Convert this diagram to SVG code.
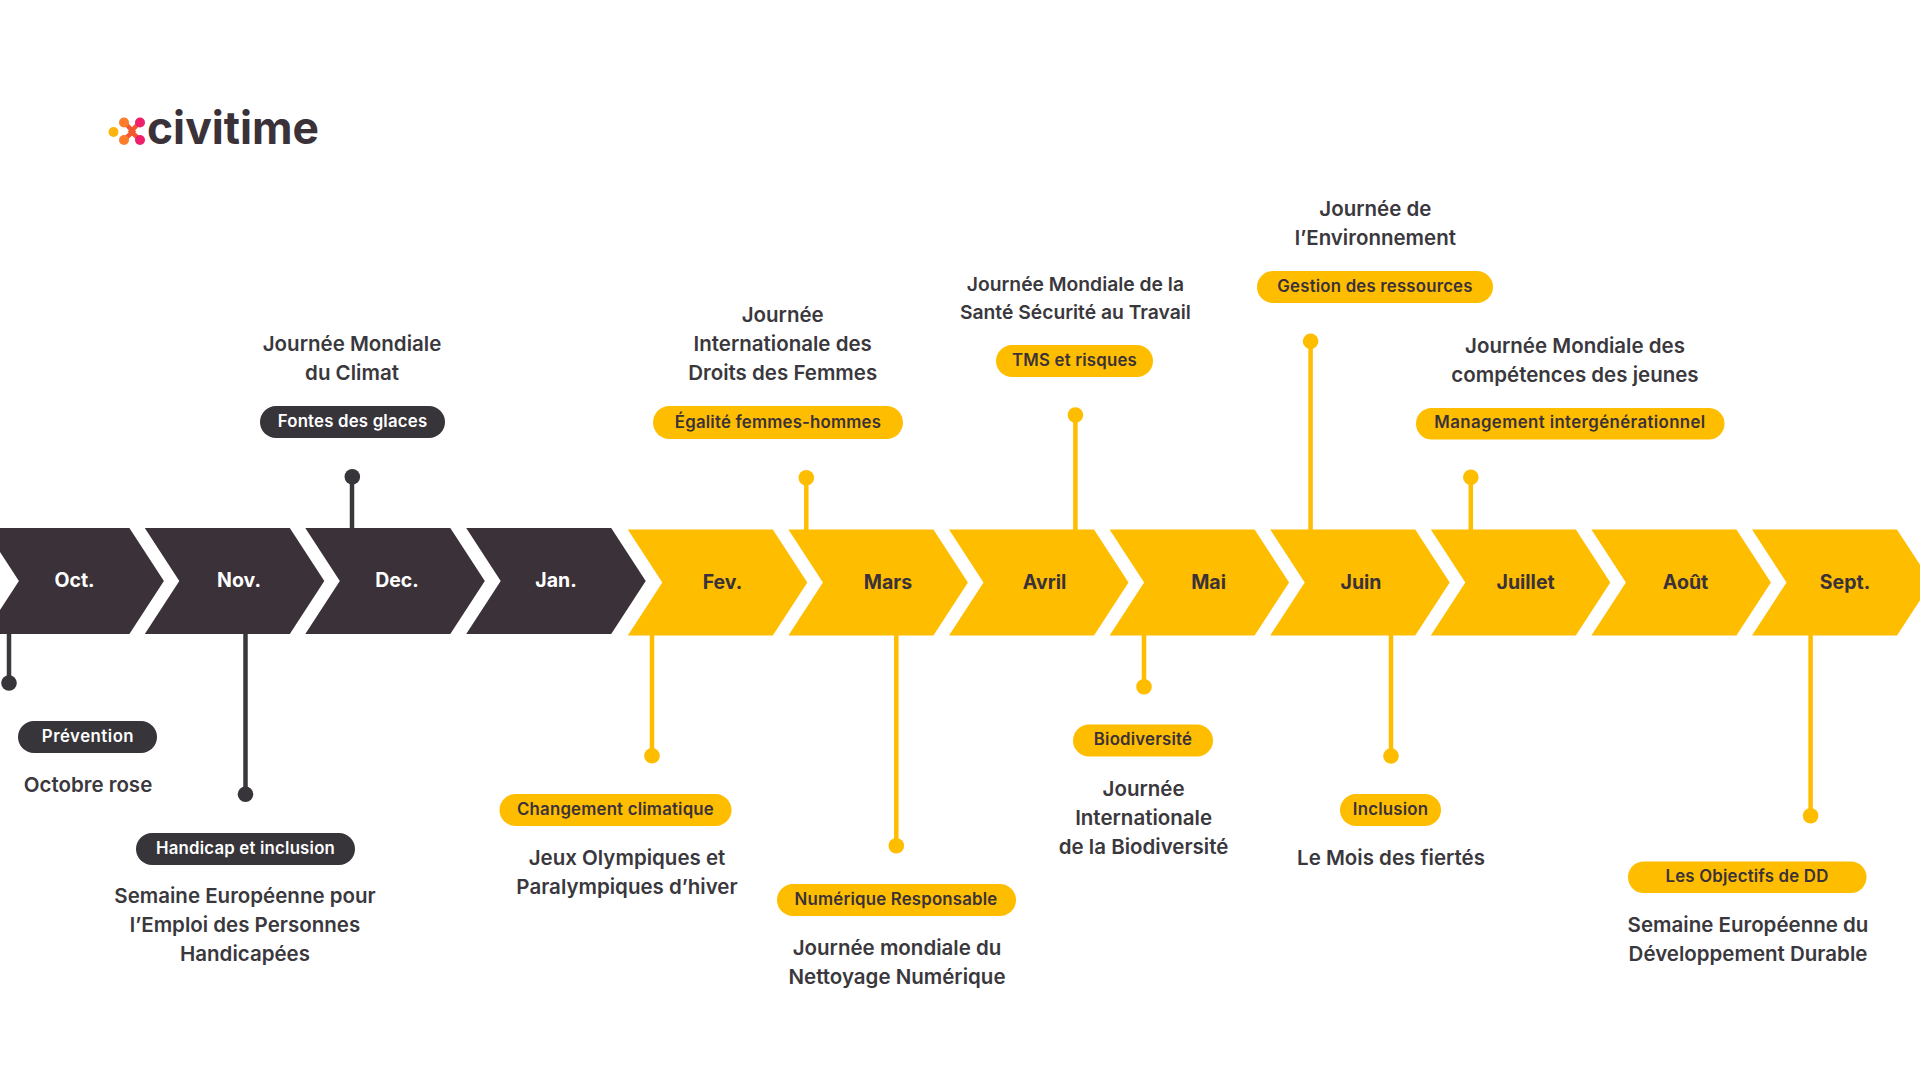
<svg xmlns="http://www.w3.org/2000/svg" width="1920" height="1080" viewBox="0 0 1920 1080">
<style>
text{font-family:"Inter","Noto Sans","Liberation Sans",sans-serif;text-anchor:middle}
.m{font-size:19.500px;font-weight:700}
.p{font-size:16.800px;font-weight:600;letter-spacing:.2px}
.t{font-size:20.500px;font-weight:600;fill:#3a383d}
.s{font-size:19.300px}
.dk{fill:#3a3238}.pd{fill:#37343a}.yl{fill:#ffbd00}
.wt{fill:#fff}.tx{fill:#3a3238}
.sd{stroke:#3a383d;stroke-width:4.500;fill:none}
.sy{stroke:#ffbd00;stroke-width:4.500;fill:none}
</style>
<defs>
<polygon id="chev" points="0,0 145,0 179.500,53 145,106 0,106 34.500,53"/>
</defs>
<rect width="1920" height="1080" fill="#fff"/>
<g id="logo">
<path d="M124 122L133 131.500L124 140M140 122L131 131.500L140 140" fill="none" stroke="#f2572e" stroke-width="4.500"/>
<circle cx="113.500" cy="132" r="5" fill="#ffb30f"/>
<circle cx="124" cy="122.500" r="5" fill="#fb7d2c"/>
<circle cx="124" cy="140" r="5" fill="#fb7d2c"/>
<circle cx="140" cy="122.500" r="5" fill="#ee1f6b"/>
<circle cx="140" cy="140" r="5" fill="#ee1f6b"/>
<text x="233" y="144" class="tx" font-size="45" font-weight="700" textLength="172" lengthAdjust="spacingAndGlyphs">civitime</text>
</g>
<g id="connectors">
<g class="sd"><path d="M9 634V683M245.500 634V794M352 476V528"/></g>
<g class="pd"><circle cx="9" cy="683" r="7.800"/><circle cx="245.500" cy="794.300" r="7.800"/><circle cx="352.300" cy="476.700" r="7.800"/></g>
<g class="sy"><path d="M652 635V755M806.300 477V530M896.300 635V845M1075.400 415V530M1144 635V686M1310.600 341V530M1391 635V756M1470.800 477V530M1810.600 635V815"/></g>
<g class="yl"><circle cx="652" cy="755.700" r="7.800"/><circle cx="806.300" cy="477.700" r="7.800"/><circle cx="896.300" cy="845.700" r="7.800"/><circle cx="1075.400" cy="415" r="7.800"/><circle cx="1144" cy="686.700" r="7.800"/><circle cx="1310.600" cy="341.300" r="7.800"/><circle cx="1391" cy="756" r="7.800"/><circle cx="1470.800" cy="477.300" r="7.800"/><circle cx="1810.600" cy="815.700" r="7.800"/></g>
</g>
<g id="oct"><use href="#chev" x="-15.600" y="528" class="dk"/><text x="74.500" y="586.500" class="m wt">Oct.</text>
<rect x="18" y="721" width="139" height="32" rx="16" class="pd"/><text x="88" y="742" class="p wt" style="letter-spacing:.5px">Prévention</text>
<text x="88" y="792" class="t">Octobre rose</text></g>
<g id="nov"><use href="#chev" x="144.800" y="528" class="dk"/><text x="239" y="586.500" class="m wt">Nov.</text>
<rect x="136" y="833" width="219" height="32" rx="16" class="pd"/><text x="245.500" y="854" class="p wt">Handicap et inclusion</text>
<text x="245" y="903" class="t">Semaine Européenne pour</text><text x="245" y="932" class="t">l’Emploi des Personnes</text><text x="245" y="961" class="t">Handicapées</text></g>
<g id="dec"><use href="#chev" x="305.300" y="528" class="dk"/><text x="397" y="586.500" class="m wt">Dec.</text>
<rect x="260" y="406" width="185" height="32" rx="16" class="pd"/><text x="352.500" y="427" class="p wt">Fontes des glaces</text>
<text x="352" y="351" class="t">Journée Mondiale</text><text x="352" y="380" class="t">du Climat</text></g>
<g id="jan"><use href="#chev" x="466.200" y="528" class="dk"/><text x="556" y="586.500" class="m wt">Jan.</text>
<rect x="499.500" y="794" width="232" height="32" rx="16" class="yl"/><text x="615.500" y="815" class="p tx">Changement climatique</text>
<text x="627" y="865" class="t">Jeux Olympiques et</text><text x="627" y="894" class="t">Paralympiques d’hiver</text></g>
<g id="fev"><use href="#chev" x="627.800" y="529.500" class="yl"/><text x="722.500" y="588.500" class="m tx">Fev.</text>
<rect x="653" y="406" width="250" height="33" rx="16.500" class="yl"/><text x="778" y="428" class="p tx">Égalité femmes-hommes</text>
<text x="782.700" y="322" class="t">Journée</text><text x="782.700" y="351" class="t">Internationale des</text><text x="782.700" y="380" class="t">Droits des Femmes</text></g>
<g id="mars"><use href="#chev" x="788.400" y="529.500" class="yl"/><text x="888" y="588.500" class="m tx">Mars</text>
<rect x="777" y="884" width="239" height="32" rx="16" class="yl"/><text x="896" y="905" class="p tx">Numérique Responsable</text>
<text x="897" y="955" class="t">Journée mondiale du</text><text x="897" y="984" class="t">Nettoyage Numérique</text></g>
<g id="avril"><use href="#chev" x="949" y="529.500" class="yl"/><text x="1044.500" y="588.500" class="m tx">Avril</text>
<rect x="996" y="345" width="157" height="32" rx="16" class="yl"/><text x="1074.500" y="366" class="p tx">TMS et risques</text>
<text x="1075.400" y="291" class="t s">Journée Mondiale de la</text><text x="1075.400" y="319" class="t s">Santé Sécurité au Travail</text></g>
<g id="mai"><use href="#chev" x="1109.600" y="529.500" class="yl"/><text x="1208.600" y="588.500" class="m tx">Mai</text>
<rect x="1073" y="724.500" width="140" height="32" rx="16" class="yl"/><text x="1143" y="745" class="p tx">Biodiversité</text>
<text x="1143.600" y="796" class="t">Journée</text><text x="1143.600" y="825" class="t">Internationale</text><text x="1143.600" y="854" class="t">de la Biodiversité</text></g>
<g id="juin"><use href="#chev" x="1270.200" y="529.500" class="yl"/><text x="1361" y="588.500" class="m tx">Juin</text>
<rect x="1340" y="794" width="101" height="32" rx="16" class="yl"/><text x="1390.500" y="815" class="p tx">Inclusion</text>
<text x="1391" y="865" class="t">Le Mois des fiertés</text>
<rect x="1257" y="271" width="236" height="32" rx="16" class="yl"/><text x="1375" y="292" class="p tx">Gestion des ressources</text>
<text x="1375.400" y="216" class="t">Journée de</text><text x="1375.400" y="245" class="t">l’Environnement</text></g>
<g id="juillet"><use href="#chev" x="1430.800" y="529.500" class="yl"/><text x="1525.600" y="588.500" class="m tx">Juillet</text>
<rect x="1416" y="408" width="308.500" height="31.500" rx="15.700" class="yl"/><text x="1570" y="428" class="p tx" style="letter-spacing:.4px">Management intergénérationnel</text>
<text x="1575" y="353" class="t">Journée Mondiale des</text><text x="1575" y="382" class="t">compétences des jeunes</text></g>
<g id="aout"><use href="#chev" x="1591.400" y="529.500" class="yl"/><text x="1685.500" y="588.500" class="m tx">Août</text></g>
<g id="sept"><use href="#chev" x="1752" y="529.500" class="yl"/><text x="1845" y="588.500" class="m tx">Sept.</text>
<rect x="1628" y="861.500" width="238.500" height="31.500" rx="15.700" class="yl"/><text x="1747" y="882" class="p tx">Les Objectifs de DD</text>
<text x="1748" y="932" class="t">Semaine Européenne du</text><text x="1748" y="961" class="t">Développement Durable</text></g>
</svg>
